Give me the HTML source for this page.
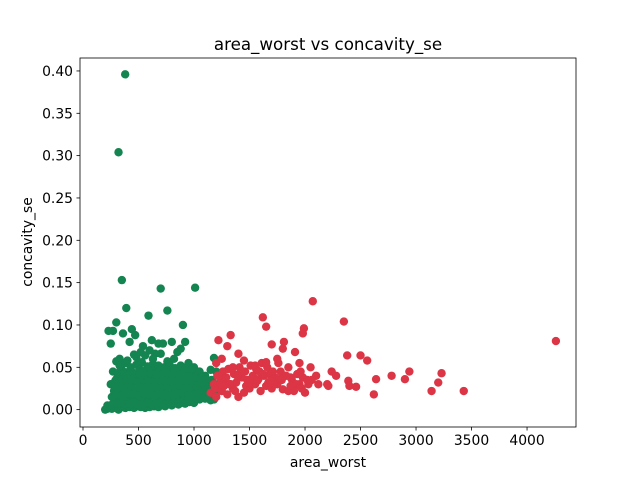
<!DOCTYPE html>
<html><head><meta charset="utf-8"><style>
body{margin:0;background:#fff;font-family:"Liberation Sans","DejaVu Sans",sans-serif}
svg text{font-family:"DejaVu Sans","Liberation Sans",sans-serif;fill:#000}
</style></head><body>
<svg id="chart" width="640" height="480">
<rect width="640" height="480" fill="#fff"/>
<g id="marks"></g>
<g id="axes"></g>
<text x="328" y="50" font-size="16.7" text-anchor="middle">area_worst vs concavity_se</text>
<text x="328" y="467" font-size="13.9" text-anchor="middle">area_worst</text>
<text transform="translate(32,242) rotate(-90)" font-size="13.9" text-anchor="middle">concavity_se</text>
</svg>
<script>
const xTicks=[0,500,1000,1500,2000,2500,3000,3500,4000];
const yTicks=[0,0.05,0.10,0.15,0.20,0.25,0.30,0.35,0.40];
const greenX=[380,320,350,700,1010,390,760,590,300,900,230,270,440,470,360,420,620,680,720,800,920,250,540,600,460,520,650,700,850,880,300,330,400,480,560,630,760,820,950,1000,1050,1100,1150,1180,1200,
200,220,240,260,280,300,320,340,360,380,400,420,440,460,480,500,520,540,560,580,600,620,640,660,680,700,720,740,760,780,800,820,840,860,880,900,920,940,960,980,1000,1050,1100,1150,
260,300,340,380,420,460,500,540,580,620,660,700,740,780,820,860,900,940,980,1020,1060,1100,
280,320,360,400,440,480,520,560,600,640,680,720,760,800,840,880,920,960,1000,1040,1080,1120,1160,
250,290,330,370,410,450,490,530,570,610,650,690,730,770,810,850,890,930,970,1010,1050,1090,1130,1170,
300,350,400,450,500,550,600,650,700,750,800,850,900,950,1000,
270,310,350,390,430,470,510,550,590,630,670,710,750,790,830,870,910,950,990,1030,1070,1110,1190,
330,380,430,480,530,580,630,680,730,780,830,880,930,980,1130,1060,1180,1000,410,520,640,760,
280,330,380,430,480,530,580,630,680,730,780,830,880,930,980,1030,1080,1130,1180,
300,350,400,450,500,550,600,650,700,750,800,850,900,950,1000,1050,1100,1150,
320,370,420,470,520,570,620,670,720,770,820,870,920,970,1020,1070,1120,
290,340,390,440,490,540,590,640,690,740,790,840,890,940,990,1040,1090,
360,410,460,510,560,610,660,710,760,810,860,910,960,1010,1060,1110,1160,
220,260,300,340,380,420,460,500,540,580,620,660,700,740,780,820,860,900,940,980,1020,1060,1100,1140,1200];
const greenY=[0.396,0.304,0.153,0.143,0.144,0.120,0.117,0.111,0.103,0.100,0.093,0.093,0.095,0.088,0.090,0.080,0.082,0.078,0.078,0.080,0.080,0.078,0.075,0.070,0.065,0.068,0.066,0.066,0.068,0.072,0.057,0.060,0.058,0.062,0.064,0.060,0.057,0.060,0.055,0.050,0.045,0.040,0.047,0.061,0.045,
0.000,0.001,0.002,0.001,0.003,0.002,0.000,0.004,0.003,0.002,0.005,0.003,0.004,0.002,0.006,0.004,0.003,0.005,0.002,0.004,0.003,0.006,0.004,0.005,0.003,0.007,0.005,0.004,0.006,0.008,0.005,0.007,0.009,0.006,0.008,0.010,0.007,0.011,0.009,0.012,0.010,0.012,0.014,0.011,
0.015,0.012,0.010,0.014,0.012,0.016,0.013,0.011,0.015,0.012,0.014,0.016,0.013,0.015,0.012,0.017,0.014,0.016,0.018,0.015,0.017,0.013,
0.022,0.020,0.024,0.021,0.023,0.019,0.025,0.022,0.020,0.024,0.021,0.023,0.026,0.022,0.024,0.021,0.025,0.023,0.020,0.022,0.024,0.021,0.019,
0.030,0.028,0.032,0.029,0.031,0.027,0.033,0.030,0.028,0.032,0.029,0.031,0.034,0.030,0.028,0.032,0.029,0.031,0.027,0.030,0.026,0.028,0.025,0.024,
0.036,0.038,0.040,0.037,0.039,0.041,0.036,0.038,0.040,0.037,0.039,0.035,0.038,0.036,0.034,
0.045,0.043,0.047,0.044,0.046,0.042,0.048,0.045,0.043,0.047,0.044,0.046,0.049,0.045,0.043,0.047,0.044,0.046,0.042,0.041,0.038,0.036,0.030,
0.052,0.055,0.050,0.053,0.056,0.051,0.054,0.052,0.050,0.053,0.049,0.052,0.050,0.048,0.033,0.020,0.012,0.008,0.008,0.009,0.010,0.012,
0.008,0.009,0.010,0.008,0.009,0.011,0.008,0.010,0.009,0.011,0.010,0.012,0.010,0.013,0.011,0.012,0.014,0.013,0.015,
0.018,0.017,0.019,0.018,0.017,0.019,0.018,0.017,0.019,0.018,0.019,0.018,0.020,0.019,0.018,0.020,0.019,0.021,
0.026,0.027,0.028,0.026,0.027,0.028,0.026,0.027,0.028,0.026,0.027,0.028,0.026,0.027,0.028,0.026,0.028,
0.034,0.033,0.035,0.034,0.033,0.035,0.034,0.033,0.035,0.034,0.033,0.035,0.034,0.033,0.032,0.031,0.030,
0.042,0.041,0.043,0.042,0.041,0.043,0.042,0.041,0.043,0.042,0.041,0.040,0.039,0.038,0.037,0.036,0.035,
0.005,0.006,0.007,0.008,0.006,0.007,0.008,0.006,0.007,0.008,0.006,0.007,0.008,0.006,0.007,0.008,0.009,0.010,0.011,0.012,0.013,0.014,0.015,0.016,0.020];
const redX=[4260,3430,3230,3200,3140,2940,2900,2780,2620,2640,2560,2500,2460,2380,2390,2400,2350,2070,1990,1980,1620,1650,1810,1800,1910,1700,1330,1300,1220,1400,2050,2100,2200,2240,2280,2210,
1150,1200,1250,1300,1350,1400,1450,1500,1550,1600,1650,1700,1750,1800,1850,1900,1950,2000,2060,2120,
1180,1230,1280,1330,1380,1430,1480,1530,1580,1630,1680,1730,1780,1830,1880,1930,1980,2030,
1210,1260,1310,1360,1410,1460,1510,1560,1610,1660,1710,1760,1820,1870,1920,1970,2020,
1200,1250,1350,1450,1550,1650,1750,1850,1950,1240,1320,1420,1520,1620,1720,1900,
1190,1270,1370,1470,1570,1670,1770,1870,1220,1290,1390,1490,1590,1690,1790,1960];
const redY=[0.081,0.022,0.043,0.032,0.022,0.045,0.036,0.040,0.018,0.036,0.058,0.064,0.027,0.064,0.034,0.028,0.104,0.128,0.096,0.090,0.109,0.098,0.080,0.072,0.068,0.077,0.088,0.075,0.082,0.066,0.050,0.040,0.030,0.045,0.040,0.028,
0.020,0.015,0.022,0.018,0.025,0.015,0.020,0.025,0.030,0.022,0.028,0.025,0.030,0.024,0.022,0.026,0.030,0.020,0.035,0.030,
0.030,0.028,0.035,0.030,0.032,0.038,0.035,0.040,0.036,0.040,0.042,0.038,0.045,0.040,0.036,0.042,0.038,0.030,
0.040,0.045,0.048,0.042,0.050,0.045,0.052,0.048,0.055,0.050,0.045,0.055,0.040,0.038,0.030,0.025,0.035,
0.055,0.060,0.050,0.058,0.052,0.056,0.060,0.050,0.055,0.035,0.030,0.045,0.035,0.042,0.030,0.022,
0.025,0.028,0.022,0.028,0.034,0.032,0.036,0.028,0.040,0.038,0.040,0.032,0.045,0.034,0.035,0.045];
const L=80,R=576,T=58,B=427,xmin=-27,xmax=4441,ymin=-0.0205,ymax=0.4153;
const sx=v=>L+(v-xmin)/(xmax-xmin)*(R-L), sy=v=>B-(v-ymin)/(ymax-ymin)*(B-T);
const NS="http://www.w3.org/2000/svg";
const marks=document.getElementById('marks'), axes=document.getElementById('axes');
function dot(x,y,c,name){const e=document.createElementNS(NS,'circle');e.setAttribute('cx',sx(x));e.setAttribute('cy',sy(y));e.setAttribute('r',4.2);e.setAttribute('fill',c);


marks.appendChild(e);}
greenX.forEach((x,i)=>dot(x,greenY[i],'#148450','benign-point'));
redX.forEach((x,i)=>dot(x,redY[i],'#dc3545','malignant-point'));
const fr=document.createElementNS(NS,'rect');fr.setAttribute('x',L);fr.setAttribute('y',T);fr.setAttribute('width',R-L);fr.setAttribute('height',B-T);fr.setAttribute('fill','none');fr.setAttribute('stroke','#000');fr.setAttribute('stroke-width','0.8');


axes.appendChild(fr);
xTicks.forEach(v=>{const x=sx(v);const l=document.createElementNS(NS,'line');l.setAttribute('x1',x);l.setAttribute('x2',x);l.setAttribute('y1',B);l.setAttribute('y2',B+3.5);l.setAttribute('stroke','#000');l.setAttribute('stroke-width','0.8');


axes.appendChild(l);const t=document.createElementNS(NS,'text');t.setAttribute('x',x);t.setAttribute('y',B+18);t.setAttribute('font-size','13.9');t.setAttribute('text-anchor','middle');t.textContent=v;


axes.appendChild(t);});
yTicks.forEach(v=>{const y=sy(v);const l=document.createElementNS(NS,'line');l.setAttribute('x1',L-3.5);l.setAttribute('x2',L);l.setAttribute('y1',y);l.setAttribute('y2',y);l.setAttribute('stroke','#000');l.setAttribute('stroke-width','0.8');


axes.appendChild(l);const t=document.createElementNS(NS,'text');t.setAttribute('x',L-7);t.setAttribute('y',y+5);t.setAttribute('font-size','13.9');t.setAttribute('text-anchor','end');t.textContent=v.toFixed(2);


axes.appendChild(t);});
</script>
</body></html>
